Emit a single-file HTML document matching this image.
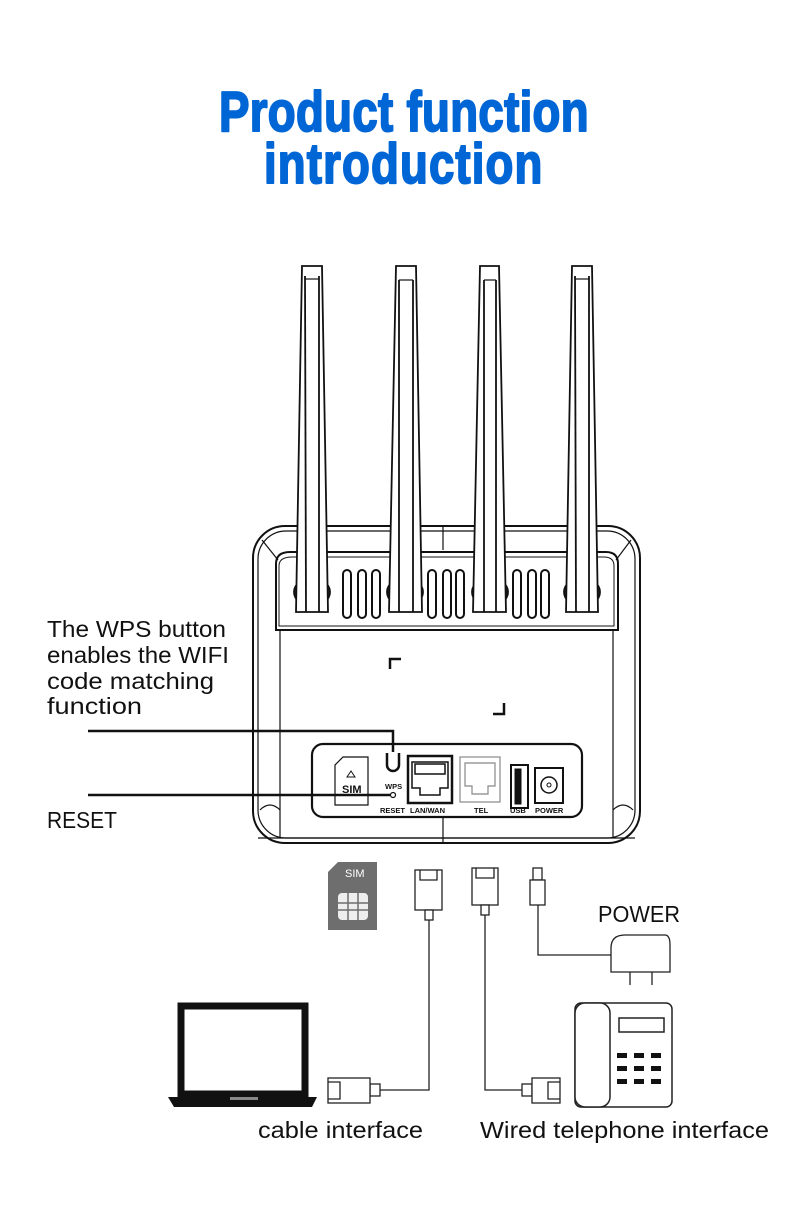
<!DOCTYPE html>
<html><head><style>
html,body{margin:0;padding:0;background:#fff;}
svg{display:block;}
text{font-family:"Liberation Sans",sans-serif;}
</style></head><body>
<svg width="790" height="1230" viewBox="0 0 790 1230" xmlns="http://www.w3.org/2000/svg">
<rect width="790" height="1230" fill="#fff"/>
<g fill="#0066d6" stroke="#0066d6" stroke-width="2" stroke-linejoin="round" font-weight="bold" font-size="57">
<text transform="translate(219,131) scale(0.8,1)" x="0" y="0" textLength="462" lengthAdjust="spacing">Product function</text>
<text transform="translate(264,183) scale(0.8,1)" x="0" y="0" textLength="348" lengthAdjust="spacing">introduction</text>
</g>

<g fill="none" stroke="#111" stroke-width="2">
<rect x="253" y="526" width="387" height="317" rx="32"/>
<rect x="258" y="531" width="377" height="307" rx="28" stroke-width="1.2"/>
<line x1="443" y1="526" x2="443" y2="550" stroke-width="1.2"/>
<line x1="443" y1="817" x2="443" y2="843" stroke-width="1.2"/>
<path d="M276 630 V564 Q276 552 290 552 H606 Q618 552 618 564 V630 Z"/>
<path d="M279 626 V566 Q279 557 292 557 H604 Q614 557 614 566 V626 Z" stroke-width="1"/>
<line x1="262" y1="540" x2="278" y2="560" stroke-width="1.2"/>
<line x1="631" y1="540" x2="616" y2="560" stroke-width="1.2"/>
<line x1="280" y1="630" x2="280" y2="838" stroke-width="1.2"/>
<line x1="613" y1="630" x2="613" y2="838" stroke-width="1.2"/>
<line x1="258" y1="838" x2="635" y2="838" stroke-width="1.2"/>
<path d="M260 810 Q270 800 280 810" stroke-width="1.2"/>
<path d="M613 810 Q623 800 633 810" stroke-width="1.2"/>
<g stroke-width="2">
<rect x="343" y="570" width="8" height="48" rx="4"/><rect x="358" y="570" width="8" height="48" rx="4"/><rect x="372" y="570" width="8" height="48" rx="4"/>
<rect x="428" y="570" width="8" height="48" rx="4"/><rect x="443" y="570" width="8" height="48" rx="4"/><rect x="456" y="570" width="8" height="48" rx="4"/>
<rect x="513" y="570" width="8" height="48" rx="4"/><rect x="528" y="570" width="8" height="48" rx="4"/><rect x="541" y="570" width="8" height="48" rx="4"/>
</g>
<path d="M390 669 V659 H401" stroke-width="2.5"/>
<path d="M493 714 H504 V703" stroke-width="2.5"/>
</g>
<g stroke="#111" stroke-width="1.8" fill="#fff">
<ellipse cx="312" cy="592" rx="18" ry="14" fill="#222"/>
<path d="M302 266 H322 L328 612 H296 Z"/>
<line x1="305" y1="276" x2="306" y2="612"/><line x1="319" y1="276" x2="319" y2="612"/>
<line x1="305" y1="279" x2="319" y2="279" stroke-width="1.2"/>
<ellipse cx="405" cy="592" rx="18" ry="14" fill="#222"/>
<path d="M396 266 H416 L422 612 H389 Z"/>
<line x1="399" y1="280" x2="399" y2="612"/><line x1="413" y1="280" x2="413" y2="612"/>
<line x1="399" y1="280" x2="413" y2="280" stroke-width="1.2"/>
<ellipse cx="490" cy="592" rx="18" ry="14" fill="#222"/>
<path d="M480 266 H499 L506 612 H473 Z"/>
<line x1="484" y1="280" x2="484" y2="612"/><line x1="496" y1="280" x2="496" y2="612"/>
<line x1="484" y1="280" x2="496" y2="280" stroke-width="1.2"/>
<ellipse cx="582" cy="592" rx="18" ry="14" fill="#222"/>
<path d="M572 266 H592 L598 612 H566 Z"/>
<line x1="575" y1="276" x2="576" y2="612"/><line x1="589" y1="276" x2="589" y2="612"/>
<line x1="575" y1="279" x2="589" y2="279" stroke-width="1.2"/>
</g>
<g fill="none" stroke="#111" stroke-width="2.2">
<rect x="312" y="744" width="270" height="73" rx="11" fill="#fff"/>
<path d="M335 805 V765 L343 757 H368 V805 Z" stroke-width="1.2"/>
<path d="M387 753 V765 A6 6 0 0 0 399 765 V753" stroke-width="2.5"/>
<rect x="408" y="756" width="44" height="47" stroke-width="2.5"/>
<path d="M412 762 H448 V788 H440 V795 H420 V788 H412 Z" stroke-width="1.5"/>
<path d="M415 764 H445 V774 H415 Z" stroke-width="1.5"/>
<rect x="460" y="757" width="40" height="45" stroke="#888" stroke-width="1.2"/>
<path d="M465 763 H495 V786 H488 V794 H472 V786 H465 Z" stroke="#888" stroke-width="1.2"/>
<rect x="511" y="765" width="17" height="43" stroke-width="2"/>
<rect x="515" y="769" width="6" height="35" fill="#111" stroke-width="1"/>
<rect x="535" y="768" width="28" height="35" stroke-width="2"/>
<circle cx="549" cy="785" r="8" stroke-width="1.5"/><circle cx="549" cy="785" r="2" stroke-width="1"/>
<circle cx="393" cy="795" r="2.5" stroke-width="1.2"/>
</g>
<g font-weight="bold" font-size="7.5" fill="#111">
<text x="342" y="793" font-size="11">SIM</text>
<path d="M347 777 L351 771 L355 777 Z" fill="none" stroke="#111"/>
<text x="385" y="789">WPS</text>
<text x="380" y="813">RESET</text>
<text x="410" y="813">LAN/WAN</text>
<text x="474" y="813">TEL</text>
<text x="510" y="813">USB</text>
<text x="535" y="813">POWER</text>
</g>
<g stroke="#111" stroke-width="2.5" fill="none">
<path d="M88 731 H393 V752"/>
<path d="M88 795 H390"/>
</g>
<g font-size="23" fill="#111">
<text x="47" y="637" textLength="179" lengthAdjust="spacingAndGlyphs">The WPS button</text>
<text x="47" y="663" textLength="182" lengthAdjust="spacingAndGlyphs">enables the WIFI</text>
<text x="47" y="689" textLength="167" lengthAdjust="spacingAndGlyphs">code matching</text>
<text x="47" y="714" textLength="95" lengthAdjust="spacingAndGlyphs">function</text>
<text x="47" y="828" textLength="70" lengthAdjust="spacingAndGlyphs">RESET</text>
<text x="598" y="922" textLength="82" lengthAdjust="spacingAndGlyphs">POWER</text>
<text x="258" y="1138" textLength="165" lengthAdjust="spacingAndGlyphs">cable interface</text>
<text x="480" y="1138" textLength="289" lengthAdjust="spacingAndGlyphs">Wired telephone interface</text>
</g>
<path d="M338 862 H377 V930 H328 V872 Z" fill="#6e6e6e"/>
<text x="345" y="877" font-size="11" fill="#fff">SIM</text>
<rect x="338" y="893" width="30" height="27" rx="4" fill="#eee"/>
<path d="M348 893 V903 H338 M358 893 V903 H368 M338 910 H348 V920 M368 910 H358 V920 M348 903 H358 V910 H348 Z" stroke="#6e6e6e" stroke-width="1.5" fill="none"/>
<g fill="#fff" stroke="#222" stroke-width="1.3">
<rect x="415" y="870" width="27" height="40"/>
<path d="M420 870 V880 H437 V870" fill="none"/>
<rect x="425" y="910" width="8" height="10"/>
<path d="M429 920 V1090 H380" fill="none"/>
<rect x="370" y="1084" width="10" height="12"/>
<rect x="328" y="1078" width="42" height="25"/>
<path d="M328 1082 H340 V1099 H328" fill="none"/>
<rect x="472" y="868" width="26" height="37"/>
<path d="M476 868 V878 H494 V868" fill="none"/>
<rect x="481" y="905" width="8" height="10"/>
<path d="M485 915 V1090 H522" fill="none"/>
<rect x="522" y="1084" width="10" height="12"/>
<rect x="532" y="1078" width="28" height="25"/>
<path d="M560 1082 H548 V1099 H560" fill="none"/>
<rect x="533" y="868" width="9" height="12"/>
<rect x="530" y="880" width="15" height="25"/>
<path d="M538 905 V955 H612" fill="none"/>
<path d="M611 972 V948 Q611 935 625 935 H665 Q670 935 670 945 V972 Z"/>
<path d="M630 972 V985 M652 972 V985" fill="none"/>
</g>
<g fill="#fff" stroke="#222" stroke-width="1.5">
<rect x="575" y="1003" width="97" height="104" rx="6"/>
<rect x="575" y="1003" width="35" height="104" rx="10"/>
<rect x="619" y="1018" width="45" height="14"/>
</g>
<g fill="#111">
<rect x="617" y="1053" width="10" height="5"/><rect x="634" y="1053" width="10" height="5"/><rect x="651" y="1053" width="10" height="5"/>
<rect x="617" y="1066" width="10" height="5"/><rect x="634" y="1066" width="10" height="5"/><rect x="651" y="1066" width="10" height="5"/>
<rect x="617" y="1079" width="10" height="5"/><rect x="634" y="1079" width="10" height="5"/><rect x="651" y="1079" width="10" height="5"/>
</g>
<rect x="181" y="1006" width="124" height="88" fill="#fff" stroke="#111" stroke-width="7"/>
<path d="M168 1097 H317 L312 1107 H174 Z" fill="#111"/>
<rect x="230" y="1097" width="28" height="3" fill="#888"/>
</svg>
</body></html>
